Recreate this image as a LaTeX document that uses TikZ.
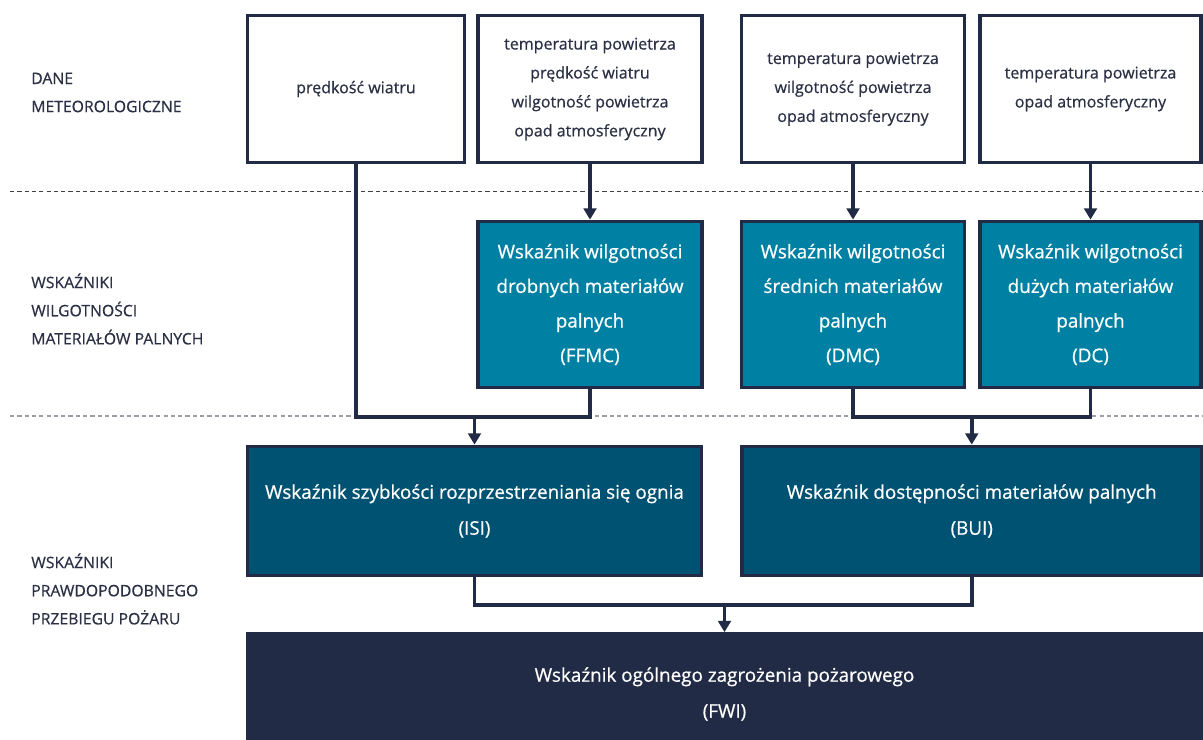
\documentclass[tikz,border=0pt]{standalone}
\usepackage{fontspec}
\setmainfont{Open Sans}[FakeBold=0.5, AutoFakeBold=0.5]
\newfontfamily\diagfont{Open Sans}[FakeBold=0.6]
\usetikzlibrary{arrows.meta}
\definecolor{navy}{HTML}{222B45}
\definecolor{fueltone}{HTML}{0081A3}
\definecolor{firetone}{HTML}{005272}
\definecolor{labelgray}{HTML}{2B3044}
\definecolor{sepgray}{HTML}{9C9EA8}

\begin{document}
\begin{tikzpicture}[x=0.025cm, y=-0.025cm,
  % box styles
  databox/.style={draw=navy, line width=2.6pt, fill=white, text=labelgray, align=center,
    font=\diagfont\fontsize{11.4}{20.6}\selectfont, minimum height=3.675cm},
  fuelbox/.style={draw=navy, line width=2.6pt, fill=fueltone, text=white, align=center,
    font=\diagfont\fontsize{13.4}{24.6}\selectfont, minimum height=4.15cm},
  firebox/.style={draw=navy, line width=2.6pt, fill=firetone, text=white, align=center,
    font=\diagfont\fontsize{13.4}{25.6}\selectfont, minimum height=3.225cm},
  levellabel/.style={anchor=west, align=left, text=labelgray, inner sep=0pt,
    font=\diagfont\fontsize{11.2}{20}\selectfont},
  % lines
  link/.style={navy, line width=2.8pt},
  linkarrow/.style={link, -{Triangle[length=8pt,width=9pt]}},
  sepdark/.style={black!75, line width=0.8pt, dash pattern=on 3pt off 2.2pt},
  seplight/.style={sepgray, line width=0.8pt, dash pattern=on 3pt off 2.2pt}
]
\useasboundingbox (0,0) rectangle (1203,740);

% level separators
\coordinate (sepaw) at (10,191.5);
\coordinate (sepae) at (1203,191.5);
\coordinate (sepbw) at (10,416);
\coordinate (sepbe) at (1203,416);
\draw[sepdark] (sepaw) -- (sepae);
\draw[seplight] (sepbw) -- (sepbe);

% level names
\node[levellabel] (lvlmeteo) at (31,92.5) {DANE\\METEOROLOGICZNE};
\node[levellabel] (lvlfuel) at (31,309) {WSKAŹNIKI\\WILGOTNOŚCI\\MATERIAŁÓW PALNYCH};
\node[levellabel] (lvlfire) at (31,589) {WSKAŹNIKI\\PRAWDOPODOBNEGO\\PRZEBIEGU POŻARU};

% weather data
\node[databox, minimum width=5.425cm] (wind) at (356,89) {prędkość wiatru};
\node[databox, minimum width=5.6cm] (dataffmc) at (590,89)
  {temperatura powietrza\\prędkość wiatru\\wilgotność powietrza\\opad atmosferyczny};
\node[databox, minimum width=5.575cm] (datadmc) at (853,89)
  {temperatura powietrza\\wilgotność powietrza\\opad atmosferyczny};
\node[databox, minimum width=5.525cm] (datadc) at (1090.5,89)
  {temperatura powietrza\\opad atmosferyczny};

% moisture codes
\node[fuelbox, minimum width=5.6cm] (ffmc) at (590,304.5)
  {Wskaźnik wilgotności\\drobnych materiałów\\palnych\\(FFMC)};
\node[fuelbox, minimum width=5.575cm] (dmc) at (853,304.5)
  {Wskaźnik wilgotności\\średnich materiałów\\palnych\\(DMC)};
\node[fuelbox, minimum width=5.525cm] (dc) at (1090.5,304.5)
  {Wskaźnik wilgotności\\dużych materiałów\\palnych\\(DC)};

% fire behaviour
\node[firebox, minimum width=11.35cm] (isi) at (474.5,511)
  {Wskaźnik szybkości rozprzestrzeniania się ognia\\(ISI)};
\node[firebox, minimum width=11.49cm] (bui) at (971.75,511)
  {Wskaźnik dostępności materiałów palnych\\(BUI)};
\node[firebox, fill=navy, minimum width=23.85cm, minimum height=3cm] (fwi) at (724.5,694)
  {Wskaźnik ogólnego zagrożenia pożarowego\\(FWI)};

% connectors
\coordinate (joina) at (0,417);
\coordinate (joinb) at (0,605);
\draw[linkarrow] (dataffmc.south) -- (ffmc.north);
\draw[linkarrow] (datadmc.south) -- (dmc.north);
\draw[linkarrow] (datadc.south) -- (dc.north);
\draw[link] (wind.south) |- (ffmc.south |- joina) -- (ffmc.south);
\draw[linkarrow] (isi.north |- joina) -- (isi.north);
\draw[link] (dmc.south) |- (dc.south |- joina) -- (dc.south);
\draw[linkarrow] (bui.north |- joina) -- (bui.north);
\draw[link] (isi.south) |- (bui.south |- joinb) -- (bui.south);
\draw[linkarrow] (fwi.north |- joinb) -- (fwi.north);
\end{tikzpicture}
\end{document}
